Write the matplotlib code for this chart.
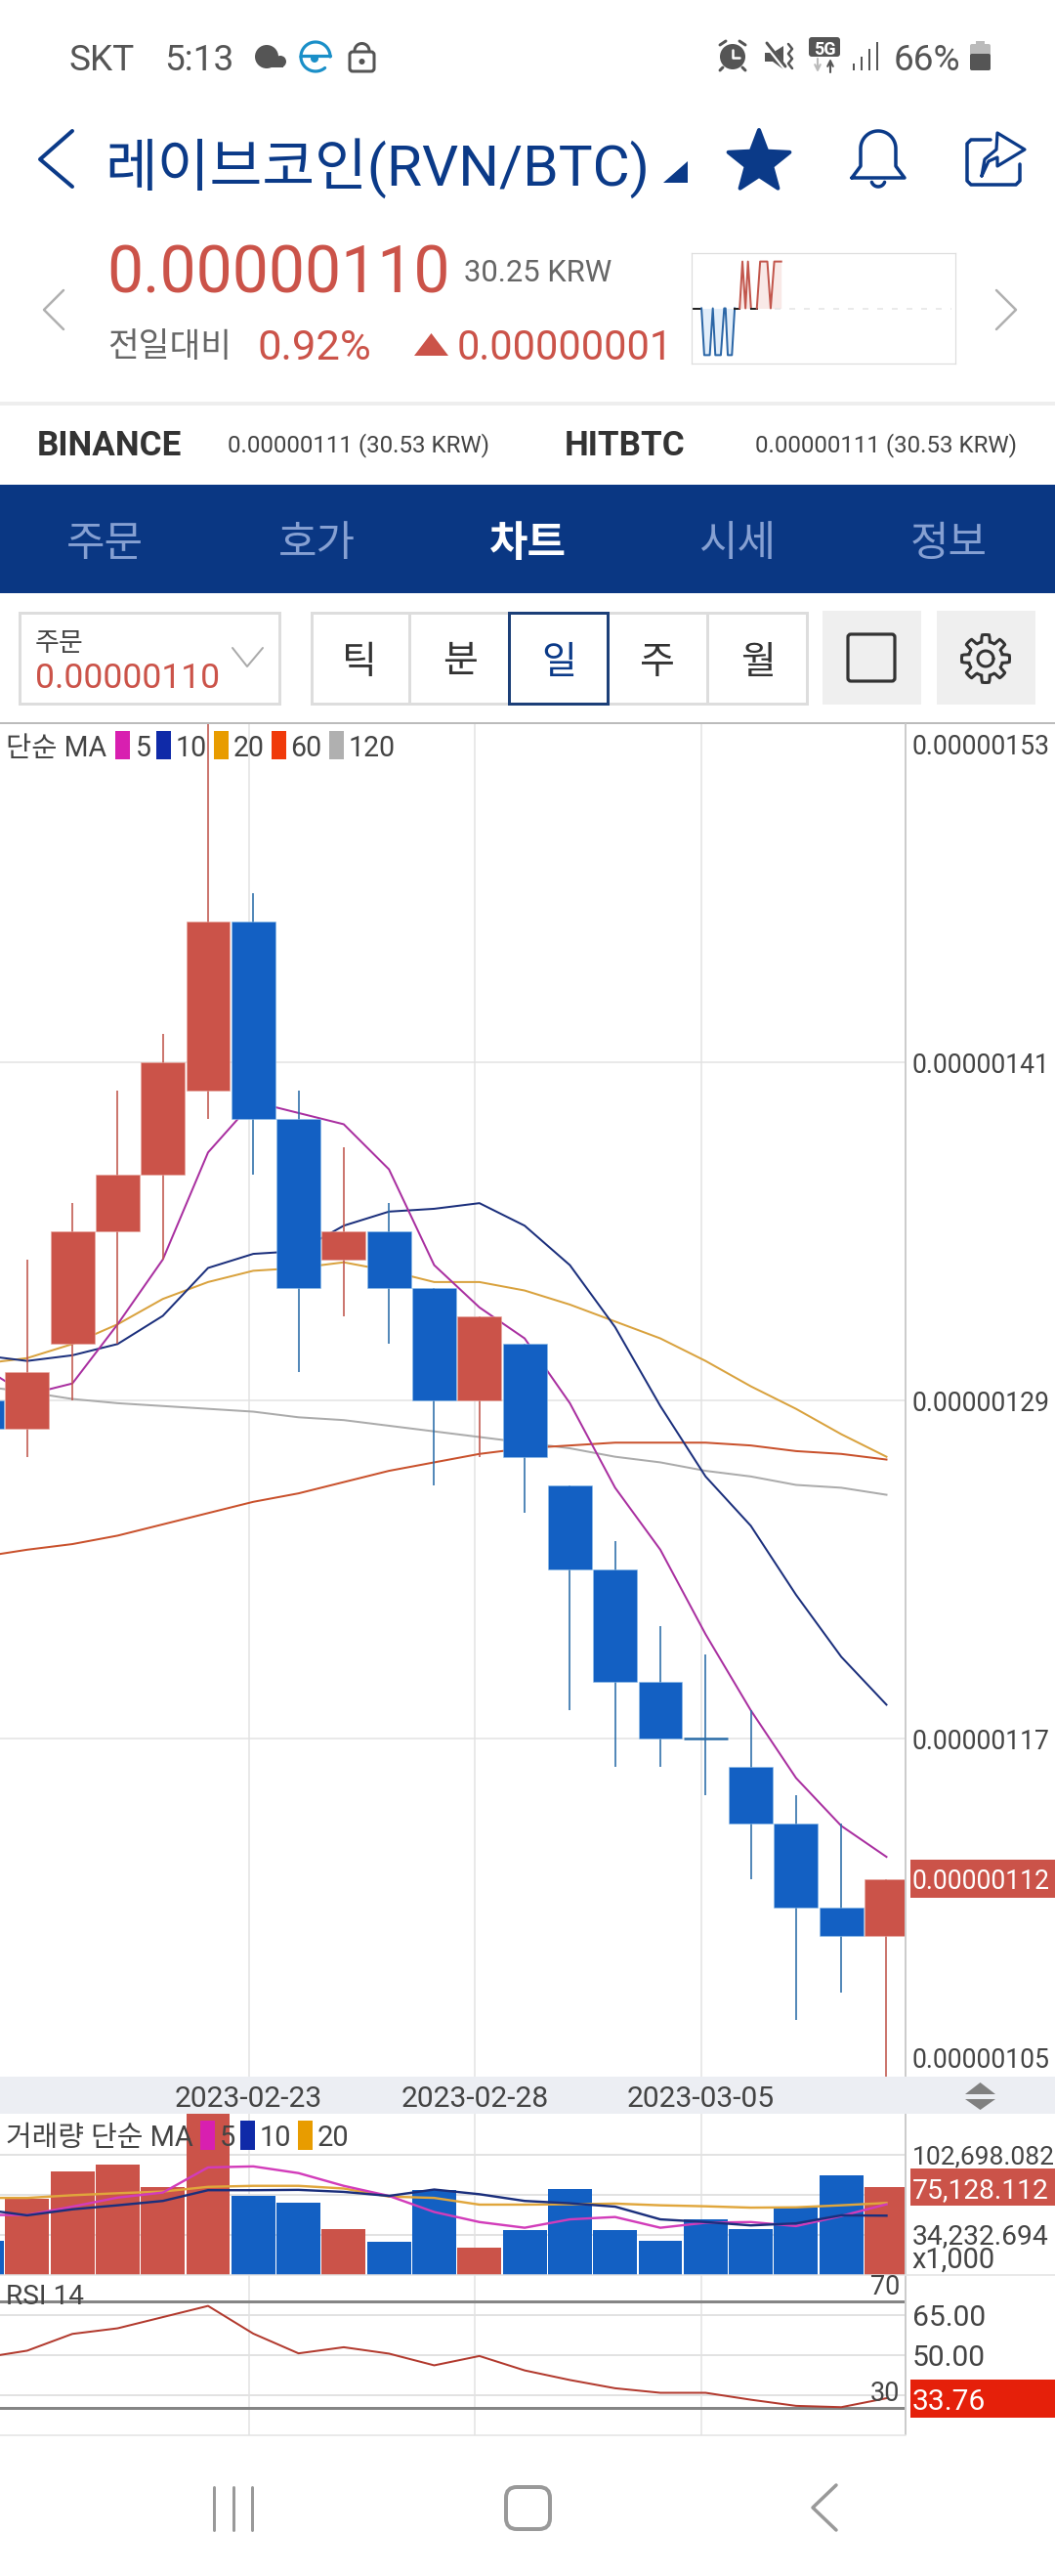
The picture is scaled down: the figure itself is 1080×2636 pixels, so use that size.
"""레이브코인(RVN/BTC) 일봉 차트 화면 재현 (1080x2636)"""

import matplotlib
matplotlib.use("Agg")
import matplotlib.pyplot as plt
import numpy as np
from matplotlib.patches import Circle, FancyBboxPatch, Polygon, Rectangle

plt.rcParams["font.family"] = ["Roboto", "Noto Sans CJK KR", "DejaVu Sans"]
plt.rcParams["axes.unicode_minus"] = False

W, H = 1080, 2636
DPI = 100

# ── 데이터 (가격 단위: 1e-8 BTC) ────────────────────────────────
opens = [129, 128, 131, 135, 137, 140, 146, 139, 134, 135, 133, 129, 131, 126, 123, 119, 117, 116, 114, 111, 110]
closes = [128, 130, 135, 137, 141, 146, 139, 133, 135, 133, 129, 132, 127, 123, 119, 117, 117, 114, 111, 110, 112]
highs = [130, 134, 136, 140, 142, 153, 147, 140, 138, 136, 133, 132, 131, 126, 124, 121, 120, 118, 115, 114, 112]
lows = [127, 127, 129, 131, 134, 139, 137, 130, 132, 131, 126, 127, 125, 118, 116, 116, 115, 112, 107, 108, 105]

ma5 = [130.2, 129.2, 129.6, 131.7, 134.0, 137.8, 139.6, 139.2, 138.8, 137.2, 133.8, 132.3, 131.2, 128.9, 125.9, 123.7, 120.7, 118.0, 115.6, 113.9, 112.8]
ma10 = [130.6, 130.4, 130.6, 131.0, 132.0, 133.7, 134.2, 134.3, 135.2, 135.7, 135.8, 136.0, 135.2, 133.8, 131.6, 128.8, 126.3, 124.55, 122.1, 119.9, 118.2]
ma20 = [130.3, 130.5, 131.0, 131.7, 132.6, 133.2, 133.6, 133.7, 133.9, 133.6, 133.2, 133.2, 132.9, 132.4, 131.8, 131.2, 130.4, 129.5, 128.7, 127.8, 127.0]
ma60 = [123.45, 123.7, 123.9, 124.2, 124.6, 125.0, 125.4, 125.7, 126.1, 126.5, 126.8, 127.1, 127.3, 127.4, 127.5, 127.5, 127.5, 127.4, 127.2, 127.1, 126.9]
ma120 = [129.5, 129.3, 129.05, 128.9, 128.8, 128.7, 128.6, 128.4, 128.3, 128.1, 127.9, 127.7, 127.5, 127.3, 127.0, 126.8, 126.5, 126.3, 126.0, 125.9, 125.65]

volumes = [28800, 64480, 87870, 93860, 74460, 140000, 67620, 61340, 38800, 27960, 72750, 23110, 38500, 73040, 38230, 28810, 47070, 38800, 57350, 84450, 75128]
vol_ma5 = [51070, 51070, 58200, 65900, 70180, 91580, 92440, 86730, 75890, 67330, 53640, 45080, 40230, 47360, 49360, 40230, 44510, 45080, 41650, 50210, 60200]
vol_ma10 = [55920, 50780, 55920, 59340, 63050, 72180, 72180, 72470, 70750, 67330, 72750, 68760, 63050, 61050, 58200, 47360, 45080, 42220, 43940, 50780, 50500]
vol_ma20 = [65620, 65620, 67900, 69610, 71040, 75030, 75890, 75890, 73610, 66760, 65620, 59910, 59910, 60200, 60770, 59340, 58490, 57350, 57630, 59340, 61340]

rsi = [48.9, 51.6, 57.9, 60.0, 64.2, 68.4, 58.0, 50.6, 52.9, 50.5, 46.1, 49.6, 44.2, 40.6, 37.5, 35.8, 35.8, 33.2, 30.9, 30.4, 33.76]

date_idx = [6, 11, 16]
date_labels = ["2023-02-23", "2023-02-28", "2023-03-05"]
price_grid = [141, 129, 117]
vol_grid = [34232.694, 68465.388, 102698.082]
rsi_grid = [35, 50, 65]
rsi_bands = [30, 70]

spark_t = [0, 3.5, 4.5, 6.5, 7.6, 8.5, 10.5, 11.7, 12.2, 13, 14.5, 15.5, 17.3, 18.3, 19.4, 20.3, 21.4, 23.5, 24.7, 27.3, 28.5, 29.8, 32.3]
spark_v = [0, 0, -1, -1, 0, -1, -1, 0, 0, -1, -1, 0, 0, 1, 0, 1, 0, 0, 1, 1, 0, 1, 1]

# ── 색상 ────────────────────────────────────────────────────────
NAVY = "#0b3a88"
BAND = "#0a3783"
TAB_DIM = "#86a0d2"
RED = "#cb5349"
BLUE = "#1360c3"
WICK_RED = "#c0564c"
WICK_BLUE = "#2a6ca8"
C_MA5 = "#a92fa0"
C_MA10 = "#1b2f7c"
C_MA20 = "#d9a23e"
C_MA60 = "#c9512c"
C_MA120 = "#ababab"
TEXT = "#444444"
GRID = "#e2e2e2"

# 캔들 간격(px)과 x축 범위
STEP = 46.3
XL = 0.40
XR = XL + 926.6 / STEP
xs = np.arange(len(opens))


def px_lw(p):
    return p * 72 / DPI


fig = plt.figure(figsize=(W / DPI, H / DPI), dpi=DPI, facecolor="white")


def pane(y0, y1, ylim, grid_px=1.5):
    ax = fig.add_axes([0, 1 - y1 / H, 926.6 / W, (y1 - y0) / H], zorder=1)
    ax.set_xlim(XL, XR)
    ax.set_ylim(*ylim)
    ax.set_xticks([i - 0.1 for i in date_idx])
    ax.tick_params(left=False, bottom=False, labelleft=False, labelbottom=False)
    ax.grid(True, axis="x", color=GRID, linewidth=px_lw(1.5), zorder=0)
    ax.grid(True, axis="y", color=GRID, linewidth=px_lw(grid_px), zorder=0)
    for s in ax.spines.values():
        s.set_visible(False)
    ax.set_axisbelow(True)
    return ax


# ── 메인 차트 ───────────────────────────────────────────────────
ax = pane(741, 2125, (105, 153))
ax.set_yticks(price_grid)
for ser, c in [(ma120, C_MA120), (ma60, C_MA60), (ma20, C_MA20), (ma10, C_MA10), (ma5, C_MA5)]:
    ax.plot(xs, ser, color=c, linewidth=px_lw(2.0), zorder=2)
for i in xs:
    up = closes[i] > opens[i]
    body_c = RED if up else BLUE
    wick_c = WICK_RED if up else WICK_BLUE
    ax.vlines(i, lows[i], highs[i], color=wick_c, linewidth=px_lw(1.6), zorder=3)
    if opens[i] == closes[i]:
        ax.hlines(opens[i], i - 0.48, i + 0.48, color=wick_c, linewidth=px_lw(2.5), zorder=4)
    else:
        ax.bar(i, abs(closes[i] - opens[i]), bottom=min(opens[i], closes[i]), width=0.97,
               color=body_c, edgecolor="#8fbfe8" if not up else "#e8a8a0", linewidth=0.4, zorder=4)

# ── 거래량 ──────────────────────────────────────────────────────
av = pane(2163, 2328, (0, 137229), grid_px=2)
av.set_yticks(vol_grid)
av.bar(xs, volumes, width=0.97, color=[RED if closes[i] > opens[i] else BLUE for i in xs], zorder=2)
for ser, c in [(vol_ma20, "#e0a63c"), (vol_ma5, "#d23cba"), (vol_ma10, C_MA10)]:
    av.plot(xs, ser, color=c, linewidth=px_lw(2.4), zorder=3)

# ── RSI ─────────────────────────────────────────────────────────
ar = pane(2328, 2491.6, (20, 80), grid_px=2)
ar.set_yticks(rsi_grid)
for v in rsi_bands:
    ar.axhline(v, color="#858585", linewidth=px_lw(3), zorder=2)
ar.plot(xs, rsi, color="#b23a2e", linewidth=px_lw(2.0), zorder=3)

# ── 스파크라인 ──────────────────────────────────────────────────
sp = fig.add_axes([707.5 / W, 1 - 372 / H, 270 / W, 113 / H], zorder=1)
sp.set_xlim(-0.24, 95.06)
sp.set_ylim(-1.18, 1.18)
sp.set_xticks([])
sp.set_yticks([])
for s in sp.spines.values():
    s.set_color("#dddddd")
    s.set_linewidth(px_lw(1.2))
sp.plot([30, 94], [0, 0], color="#e4e4e4", linewidth=px_lw(1.5), linestyle=(0, (4, 6)))
t_arr, v_arr = np.array(spark_t), np.array(spark_v)
sp.fill_between(t_arr[1:12], v_arr[1:12], 0, color="#cfe4f7", alpha=0.6, linewidth=0)
sp.fill_between(t_arr[12:], v_arr[12:], 0, color="#f3cfcb", alpha=0.45, linewidth=0)
sp.plot(t_arr[:2], v_arr[:2], color="#222222", linewidth=px_lw(2))
sp.plot(t_arr[1:12], v_arr[1:12], color="#2b66a6", linewidth=px_lw(2))
sp.plot(t_arr[11:13], v_arr[11:13], color="#222222", linewidth=px_lw(2))
sp.plot(t_arr[12:17], v_arr[12:17], color="#c2564c", linewidth=px_lw(2))
sp.plot(t_arr[16:18], v_arr[16:18], color="#222222", linewidth=px_lw(2))
sp.plot(t_arr[17:], v_arr[17:], color="#c2564c", linewidth=px_lw(2))

# ── 화면 요소 (픽셀 좌표 오버레이) ──────────────────────────────
ov = fig.add_axes([0, 0, 1, 1], zorder=10)
ov.set_xlim(0, W)
ov.set_ylim(H, 0)
ov.axis("off")
ov.patch.set_alpha(0)


def txt(x, y, s, size, color=TEXT, ha="left", weight="normal"):
    ov.text(x, y, s, fontsize=size * 72 / DPI, color=color, ha=ha, va="center_baseline",
            fontweight=weight, clip_on=True)


def rect(x0, y0, x1, y1, fc="none", ec="none", lw=0.0, z=1):
    ov.add_patch(Rectangle((x0, y0), x1 - x0, y1 - y0, facecolor=fc, edgecolor=ec, linewidth=px_lw(lw), zorder=z))


def rrect(x0, y0, x1, y1, r, fc="none", ec="none", lw=0.0, z=2):
    ov.add_patch(FancyBboxPatch((x0 + r, y0 + r), x1 - x0 - 2 * r, y1 - y0 - 2 * r,
                                boxstyle=f"round,pad={r}", facecolor=fc, edgecolor=ec,
                                linewidth=px_lw(lw), zorder=z))


def poly(pts, fc, z=2):
    ov.add_patch(Polygon(pts, closed=True, facecolor=fc, edgecolor="none", zorder=z))


def line(pts, color, lw, z=3):
    pts = np.array(pts)
    ov.plot(pts[:, 0], pts[:, 1], color=color, linewidth=px_lw(lw), solid_capstyle="round",
            solid_joinstyle="round", zorder=z)


def arc(cx, cy, r, a0, a1, n=40):
    # 화면 좌표 기준 각도 (위쪽이 90도)
    a = np.radians(np.linspace(a0, a1, n))
    return np.column_stack([cx + r * np.cos(a), cy - r * np.sin(a)])


def circle(cx, cy, r, fc, z=3):
    ov.add_patch(Circle((cx, cy), r, facecolor=fc, edgecolor="none", zorder=z))


DARK = "#555555"

# 상태바
txt(70, 58, "SKT", 37, DARK)
txt(168, 58, "5:13", 37, DARK)
circle(273, 58, 12, DARK)
circle(287, 63, 6, DARK)
rect(268, 58, 290, 69, fc=DARK, z=3)
line(arc(323, 58, 15, 0, 180), "#1a8fc8", 3.2)
line(arc(323, 58, 15, 180, 310, 20), "#1a8fc8", 3.2)
line([(308, 57), (338, 57)], "#1a8fc8", 3.2)
circle(322, 60, 4, "#1a8fc8")
rrect(358, 53, 383, 73, 3, ec=DARK, lw=3)
line(arc(370.5, 52, 7.5, 0, 180), DARK, 3)
circle(370.5, 63, 3, DARK)

circle(750, 58, 13, DARK)
line([(750, 51), (750, 59), (757, 59)], "white", 2.5, z=4)
line([(737, 46), (743, 42)], DARK, 3)
line([(757, 42), (763, 46)], DARK, 3)
line([(740, 69), (737, 72)], DARK, 3)
line([(760, 69), (763, 72)], DARK, 3)
poly([(783, 54), (791, 54), (802, 47), (802, 71), (791, 63), (783, 63)], DARK)
line([(785, 46), (804, 70)], "white", 5, z=3)
line([(785, 44), (804, 68)], DARK, 3, z=4)
line([(807, 45), (811, 50), (807, 55), (811, 60), (807, 65), (811, 70)], DARK, 2.5)
rrect(828, 38, 860, 58, 3, fc=DARK)
txt(844, 48.5, "5G", 18, "white", ha="center", weight="bold")
ov.annotate("", xy=(837, 74), xytext=(837, 60), arrowprops=dict(arrowstyle="->", color="#bbbbbb", lw=1.5, shrinkA=0, shrinkB=0))
ov.annotate("", xy=(850, 60), xytext=(850, 74), arrowprops=dict(arrowstyle="->", color=DARK, lw=1.5, shrinkA=0, shrinkB=0))
for bx, top in zip([874, 882, 890, 898], [65, 58, 50, 43]):
    rect(bx - 1.4, top, bx + 1.4, 72, fc=DARK, z=3)
txt(915, 58, "66%", 37, DARK)
rect(999, 42, 1008, 46, fc="#bbbbbb", z=3)
rrect(993, 45, 1014, 72, 2, fc="#bbbbbb")
rrect(993, 55, 1014, 72, 2, fc=DARK, z=3)

# 헤더
line([(74, 134), (41, 163), (74, 191)], NAVY, 4)
txt(107, 165, "레이브코인(RVN/BTC)", 58.5, NAVY)
poly([(679, 187), (704, 187), (704, 165)], NAVY)
star_a = np.radians(90 + np.arange(10) * 36)
star_r = np.where(np.arange(10) % 2 == 0, 33, 14)
ov.add_patch(Polygon(np.column_stack([777 + star_r * np.cos(star_a), 166 - star_r * np.sin(star_a)]),
                     closed=True, facecolor=NAVY, edgecolor=NAVY, linewidth=px_lw(4), joinstyle="round", zorder=3))
bell = np.vstack([[(872, 182)], [(881, 170)], arc(899, 152, 18, 180, 0), [(917, 170)], [(926, 182)], [(872, 182)]])
line(bell, NAVY, 3.5)
line(arc(899, 184, 7, 200, 340, 20), NAVY, 3.5)
line([(1014, 143), (994, 143), (990, 147), (990, 185), (994, 189), (1040, 189), (1044, 185), (1044, 168)], NAVY, 3.5)
line([(1005, 180), (1008, 163), (1020, 153), (1021, 136), (1049, 153), (1021, 170), (1021, 161), (1012, 165), (1005, 180)], NAVY, 3.2)

# 현재가
line([(65, 297), (45, 317), (65, 337)], "#b0b0b0", 2.5)
line([(1020, 297), (1040, 317), (1020, 337)], "#b0b0b0", 2.5)
txt(109, 274, "0.00000110", 66, RED)
txt(475, 276, "30.25 KRW", 31, "#666666")
txt(110, 352, "전일대비", 34.5, "#666666")
txt(263, 352, "0.92%", 43.5, RED)
poly([(424, 364), (459, 364), (441.5, 341)], RED)
txt(468, 352, "0.00000001", 41.5, RED)

# 거래소
rect(0, 411, W, 415, fc="#eeeeee")
txt(38, 453, "BINANCE", 35, "#333333", weight="bold")
txt(233, 453, "0.00000111 (30.53 KRW)", 24, TEXT)
txt(578, 453, "HITBTC", 35, "#333333", weight="bold")
txt(773, 453, "0.00000111 (30.53 KRW)", 24, TEXT)

# 탭
rect(0, 496, W, 607, fc=BAND)
for tx, label in zip([107, 324, 755, 971], ["주문", "호가", "시세", "정보"]):
    txt(tx, 553, label, 43, TAB_DIM, ha="center")
txt(540, 553, "차트", 43, "white", ha="center", weight="bold")

# 컨트롤 줄
rect(19.5, 627, 286, 720, ec="#dddddd", lw=3)
txt(36, 656, "주문", 27, TEXT)
txt(35.5, 691, "0.00000110", 35.5, RED)
line([(238, 663), (253, 682), (269, 663)], "#aaaaaa", 2)
rect(318.5, 627, 825.5, 720, ec="#dddddd", lw=3)
for dx in [419, 723.5]:
    line([(dx, 627), (dx, 720)], "#dddddd", 3, z=2)
rect(520.5, 627, 621.5, 720, ec="#1c3f78", lw=3, z=3)
for tx, label, c in zip([368, 471, 572, 673, 776], ["틱", "분", "일", "주", "월"],
                        ["#333333", "#333333", NAVY, "#333333", "#333333"]):
    txt(tx, 674, label, 39, c, ha="center")
rect(842, 625, 943, 721, fc="#efefef")
rrect(868, 649, 916, 697, 3, ec="#333333", lw=3.2)
rect(959, 625, 1060, 721, fc="#efefef")
g_a = np.radians(np.arange(0, 360, 2))
g_r = 21 + 3.5 * np.clip(3 * np.cos(np.radians(np.arange(0, 360, 2)) * 8), -1, 1)
g_pts = np.column_stack([1009 + g_r * np.cos(g_a), 674 + g_r * np.sin(g_a)])
ov.add_patch(Polygon(g_pts, closed=True, facecolor="none", edgecolor="#333333", linewidth=px_lw(3), zorder=3))
line(arc(1009, 674, 8, 0, 360), "#333333", 3)

# 차트 테두리 / 범례
rect(0, 738.5, W, 741, fc="#bbbbbb")
line([(926.6, 741), (926.6, 2491)], "#cccccc", 2, z=2)
line([(0, 2491.6), (926.6, 2491.6)], "#e2e2e2", 1.5, z=2)
line([(0, 2328), (W, 2328)], "#e2e2e2", 1.5, z=2)

txt(6, 763, "단순 MA", 28.5, TEXT)
for x0, x_lab, c, lab in zip([118, 160, 219, 278, 337], [139, 180, 239, 297, 357],
                             ["#d81fb0", "#0f2aa8", "#e89c00", "#f03a0a", "#b0b0b0"],
                             ["5", "10", "20", "60", "120"]):
    rect(x0, 748, x0 + 15, 777, fc=c, z=3)
    txt(x_lab, 763, lab, 28.5, TEXT)

for lab, y in zip(["0.00000153", "0.00000141", "0.00000129", "0.00000117", "0.00000105"],
                  [762, 1087, 1433, 1779, 2105]):
    txt(933.5, y, lab, 26.5, TEXT)
rect(932, 1903, W, 1942, fc=RED, z=3)
txt(933.5, 1922.5, "0.00000112", 26.5, "white")

# 날짜 띠
rect(0, 2125, W, 2163, fc="#eceef3", z=3)
for i, lab in zip(date_idx, date_labels):
    txt((i - 0.1 - XL) * STEP, 2144.5, lab, 30, TEXT, ha="center")
poly([(988, 2143), (1019, 2143), (1003.5, 2131)], "#808080", z=4)
poly([(988, 2148), (1019, 2148), (1003.5, 2159)], "#808080", z=4)

# 거래량 라벨
txt(6, 2185, "거래량 단순 MA", 29, TEXT)
for x0, x_lab, c, lab in zip([205, 246, 305], [225, 266, 325],
                             ["#d81fb0", "#0f2aa8", "#e89c00"], ["5", "10", "20"]):
    rect(x0, 2170, x0 + 15, 2200, fc=c, z=3)
    txt(x_lab, 2185, lab, 29, TEXT)
txt(933.5, 2205, "102,698.082", 26.4, TEXT)
rect(932, 2219, W, 2257, fc=RED, z=3)
txt(933.5, 2238.5, "75,128.112", 28.3, "white")
txt(933.5, 2286, "34,232.694", 28.3, TEXT)
txt(933.5, 2310, "x1,000", 29, TEXT)

# RSI 라벨
txt(6, 2348, "RSI 14", 28, TEXT)
txt(921, 2338, "70", 27, TEXT, ha="right")
txt(921, 2446.5, "30", 27, TEXT, ha="right")
txt(933.5, 2369, "65.00", 30, TEXT)
txt(933.5, 2410, "50.00", 30, TEXT)
rect(932, 2435, W, 2474, fc="#e5200a", z=3)
txt(933.5, 2455, "33.76", 30, "white")

# 내비게이션 바
for bx in [219, 239, 258]:
    line([(bx, 2545), (bx, 2589)], "#999999", 3)
rrect(518, 2545, 563, 2588, 11, ec="#999999", lw=4)
line([(856, 2543), (832, 2566), (856, 2589)], "#999999", 3.5)

fig.savefig("out.png", dpi=DPI, facecolor="white")
